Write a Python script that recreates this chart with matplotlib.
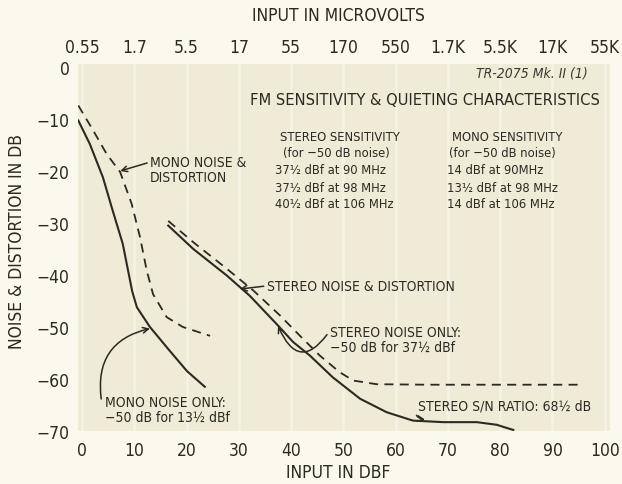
import matplotlib
matplotlib.use("Agg")
import matplotlib.pyplot as plt

plt.rcParams['font.family'] = ['DejaVu Sans']
plt.rcParams['font.stretch'] = 'condensed'
plt.rcParams['axes.unicode_minus'] = True

# tick scales
dbf_ticks = [0, 10, 20, 30, 40, 50, 60, 70, 80, 90, 100]
uv_labels = ['0.55', '1.7', '5.5', '17', '55', '170', '550', '1.7K', '5.5K', '17K', '55K']
db_ticks = [0, -10, -20, -30, -40, -50, -60, -70]

# curves (x in dBf, y in dB)
mono_noise_x = [-0.7, 1.5, 4.0, 5.9, 7.8, 9.6, 10.5, 13.0, 16.8, 20.1, 23.5]
mono_noise_y = [-10.3, -14.8, -21.2, -27.7, -34.0, -43.1, -46.2, -50.0, -54.6, -58.5, -61.5]

mono_dist_x = [-0.7, 2.2, 4.7, 7.3, 9.5, 11.1, 12.4, 13.6, 16.2, 19.3, 24.5]
mono_dist_y = [-7.4, -12.3, -16.7, -20.2, -26.3, -32.7, -39.2, -43.7, -48.1, -50.0, -51.7]

stereo_noise_x = [16.5, 21.3, 27.7, 32.1, 37.2, 40.4, 43.6, 48.0, 53.2, 58.3, 63.3, 69.1, 75.5, 79.3, 82.5]
stereo_noise_y = [-30.5, -35.0, -40.1, -44.0, -49.4, -52.9, -55.5, -59.7, -63.8, -66.4, -68.0, -68.3, -68.3, -68.8, -69.8]

stereo_dist_x = [16.5, 21.3, 27.7, 32.8, 37.9, 41.7, 45.5, 49.3, 51.9, 56.3, 65.9, 78.6, 95.2]
stereo_dist_y = [-29.6, -33.7, -38.8, -43.0, -47.8, -51.7, -55.5, -58.7, -60.3, -61.0, -61.1, -61.1, -61.1]

ink = '#2b2a22'
fig = plt.figure(figsize=(6.22, 4.85), dpi=100)
fig.patch.set_facecolor('#fbf9ee')
ax = fig.add_axes([0.1254, 0.1093, 0.8553, 0.7567])
ax.set_facecolor('#efebd6')
ax.set_xlim(-0.76, 101.0)
ax.set_ylim(-70, 0.58)
for s in ax.spines.values():
    s.set_visible(False)
ax.grid(True, axis='x', color='#f5f2e3', lw=2)
ax.set_axisbelow(True)

ax.plot(mono_noise_x, mono_noise_y, color=ink, lw=1.5)
ax.plot(mono_dist_x, mono_dist_y, color=ink, lw=1.3, dashes=(5, 3.5))
ax.plot(stereo_noise_x, stereo_noise_y, color=ink, lw=1.5)
ax.plot(stereo_dist_x, stereo_dist_y, color=ink, lw=1.3, dashes=(5, 3.5))

ax.set_xticks(dbf_ticks)
ax.set_yticks(db_ticks)
ax.tick_params(length=0, labelsize=12.5, colors=ink, pad=7)
ax.tick_params(axis='y', pad=6)

top = ax.secondary_xaxis('top')
top.set_xticks(dbf_ticks, labels=uv_labels)
top.tick_params(length=0, labelsize=12.5, colors=ink, pad=6)
for s in top.spines.values():
    s.set_visible(False)

ax.set_xlabel('INPUT IN DBF', fontsize=12.5, color=ink)
ax.xaxis.set_label_coords(0.49, -0.088)
ax.set_ylabel('NOISE & DISTORTION IN DB', fontsize=12.5, color=ink)
ax.yaxis.set_label_coords(-0.098, 0.52)
ax.text(0.49, 1.133, 'INPUT IN MICROVOLTS', transform=ax.transAxes,
        ha='center', va='center', fontsize=12.5, color=ink)

# headings
ax.text(96.8, -1.0, 'TR-2075 Mk. II (1)', ha='right', va='center',
        fontsize=10, style='italic', color='#3a3a32')
ax.text(99, -6.3, 'FM SENSITIVITY & QUIETING CHARACTERISTICS', ha='right',
        va='center', fontsize=11.8, fontweight='medium', color=ink)

# sensitivity tables
fs = 10
ft = 9.3
ax.text(37.9, -13.3, 'STEREO SENSITIVITY', fontsize=ft, va='center', color=ink)
ax.text(38.5, -16.5, '(for \u221250 dB noise)', fontsize=ft, va='center', color=ink)
ax.text(36.9, -19.8, '37\u00bd dBf at 90 MHz', fontsize=ft, va='center', color=ink)
ax.text(36.9, -23.1, '37\u00bd dBf at 98 MHz', fontsize=ft, va='center', color=ink)
ax.text(36.9, -26.3, '40\u00bd dBf at 106 MHz', fontsize=ft, va='center', color=ink)

ax.text(70.7, -13.3, 'MONO SENSITIVITY', fontsize=ft, va='center', color=ink)
ax.text(70.3, -16.5, '(for \u221250 dB noise)', fontsize=ft, va='center', color=ink)
ax.text(69.8, -19.8, '14 dBf at 90MHz', fontsize=ft, va='center', color=ink)
ax.text(69.8, -23.1, '13\u00bd dBf at 98 MHz', fontsize=ft, va='center', color=ink)
ax.text(69.8, -26.3, '14 dBf at 106 MHz', fontsize=ft, va='center', color=ink)

# callouts
arr = dict(arrowstyle='->', color=ink, lw=1.1, shrinkA=0, shrinkB=0)
ax.annotate('MONO NOISE &\nDISTORTION', xy=(7.3, -20.0), xytext=(13.0, -19.7),
            fontsize=fs, va='center', color=ink, linespacing=1.1,
            arrowprops=dict(arr, relpos=(0, 0.75)))
ax.annotate('STEREO NOISE & DISTORTION', xy=(30.2, -42.7), xytext=(35.3, -42.1),
            fontsize=fs, va='center', color=ink,
            arrowprops=dict(arr, relpos=(0, 0.5)))
ax.annotate('STEREO NOISE ONLY:\n\u221250 dB for 37\u00bd dBf', xy=(37.5, -49.8),
            xytext=(47.4, -52.4), fontsize=fs, va='center', color=ink, linespacing=1.1,
            arrowprops=dict(arr, relpos=(0, 0.8), connectionstyle='arc3,rad=-0.9'))
ax.annotate('STEREO S/N RATIO: 68\u00bd dB', xy=(65.6, -67.8), xytext=(64.2, -65.1),
            fontsize=fs, va='center', color=ink,
            arrowprops=dict(arr, relpos=(0, 0.5), connectionstyle='arc3,rad=0.7'))
ax.annotate('MONO NOISE ONLY:\n\u221250 dB for 13\u00bd dBf', xy=(13.0, -50.3),
            xytext=(4.4, -65.8), fontsize=fs, va='center', color=ink, linespacing=1.1,
            arrowprops=dict(arr, relpos=(-0.03, 0.85), connectionstyle='arc3,rad=-0.45'))

fig.savefig('out.png', dpi=100, facecolor=fig.get_facecolor())
